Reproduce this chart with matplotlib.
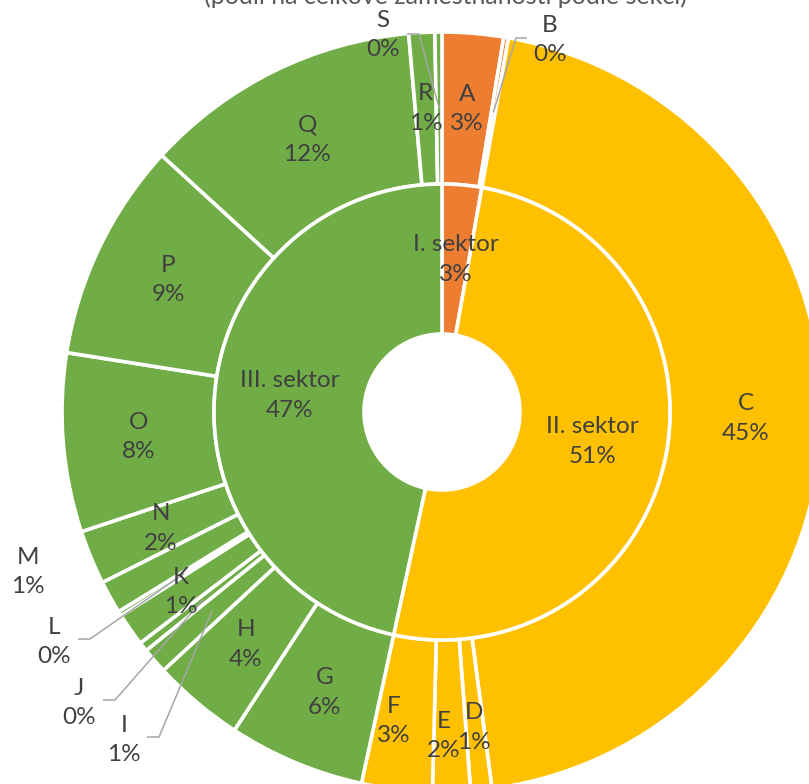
import numpy as np
import matplotlib.pyplot as plt

plt.rcParams['font.family'] = ['Lato', 'DejaVu Sans']

# data: sektory (vnitrni kruh) a sekce CZ-NACE (vnejsi kruh), podil v %
sektory = ['I. sektor', 'II. sektor', 'III. sektor']
sekce = ['A', 'B', 'C', 'D', 'E', 'F', 'G', 'H', 'I', 'J',
         'K', 'L', 'M', 'N', 'O', 'P', 'Q', 'R', 'S']
podily = [2.6, 0.2, 45.1, 0.9, 1.6, 3.0, 5.8, 3.9, 1.1, 0.4,
          1.4, 0.2, 1.4, 2.3, 7.6, 9.3, 11.8, 1.1, 0.3]
sektor_sekce = [0, 0, 1, 1, 1, 1, 2, 2, 2, 2, 2, 2, 2, 2, 2, 2, 2, 2, 2]
titulek = '(podíl na celkové zaměstnanosti podle sekcí)'

barvy = ['#ED7D31', '#FFC000', '#70AD47']
text_barva = '#404040'

W, H = 809, 784
cx, cy = 442, H - 412          # stred v datovych souradnicich (y nahoru)
r_out, r_mid, r_in = 380, 228, 78

podily_sektoru = [sum(p for p, s in zip(podily, sektor_sekce) if s == k)
                  for k in range(len(sektory))]
celkem = sum(podily)

fig = plt.figure(figsize=(W / 100, H / 100), dpi=100)
ax = fig.add_axes([0, 0, 1, 1])

wp = dict(edgecolor='white', linewidth=2.6)
ax.pie(podily, radius=r_out, center=(cx, cy), startangle=90, counterclock=False,
       colors=[barvy[s] for s in sektor_sekce], wedgeprops=dict(width=r_out - r_mid, **wp))
ax.pie(podily_sektoru, radius=r_mid, center=(cx, cy), startangle=90, counterclock=False,
       colors=barvy, wedgeprops=dict(width=r_mid - r_in, **wp))

ax.set_xlim(0, W)
ax.set_ylim(0, H)
ax.axis('off')


def bod(frac, r):
    # frac = podil od vrcholu, po smeru hodin
    a = 2 * np.pi * frac
    return cx + r * np.sin(a), cy + r * np.cos(a)


fs = 17.5
ls = 1.5

# vnitrni popisky
kum = 0.0
for nazev, p in zip(sektory, podily_sektoru):
    x, y = bod((kum + p / 2) / celkem, (r_mid + r_in) / 2)
    ax.text(x, y, f'{nazev}\n{p / celkem * 100:.0f}%', ha='center', va='center',
            fontsize=fs, color=text_barva, linespacing=ls)
    kum += p

# popisky mimo kruh (pozice v pixelech obrazku) a lomy vodicich car
mimo = {'B': (550, 40), 'S': (383, 35), 'M': (28, 572),
        'L': (54, 642), 'J': (79, 703), 'I': (124, 740)}
lomy = {'B': [(527, 38), (516, 38)], 'S': [(407, 34), (419, 34)],
        'L': [(78, 639), (90, 639)], 'J': [(103, 700), (115, 700)],
        'I': [(147, 737), (159, 737)]}
posun = {'D': (0, 13), 'E': (-6, 20), 'F': (-12, 7), 'K': (-12, 6)}

kum = 0.0
r_lab = (r_out + r_mid) / 2
for nazev, p in zip(sekce, podily):
    x, y = bod((kum + p / 2) / celkem, r_lab)
    kum += p
    txt = f'{nazev}\n{p / celkem * 100:.0f}%'
    if nazev in mimo:
        lx, ly = mimo[nazev]
        ax.text(lx, H - ly, txt, ha='center', va='center', fontsize=fs,
                color=text_barva, linespacing=ls)
        if nazev in lomy:
            xs = [q[0] for q in lomy[nazev]] + [x]
            ys = [H - q[1] for q in lomy[nazev]] + [y]
            ax.plot(xs, ys, color='#A6A6A6', lw=1.1, solid_capstyle='butt')
        continue
    dx, dy = posun.get(nazev, (0, 0))
    ax.text(x + dx, y - dy, txt, ha='center', va='center', fontsize=fs,
            color=text_barva, linespacing=ls)

ax.text(446, H - 4, titulek, ha='center', va='baseline', fontsize=18,
        color='#595959', clip_on=False)

fig.savefig('out.png', dpi=100)
